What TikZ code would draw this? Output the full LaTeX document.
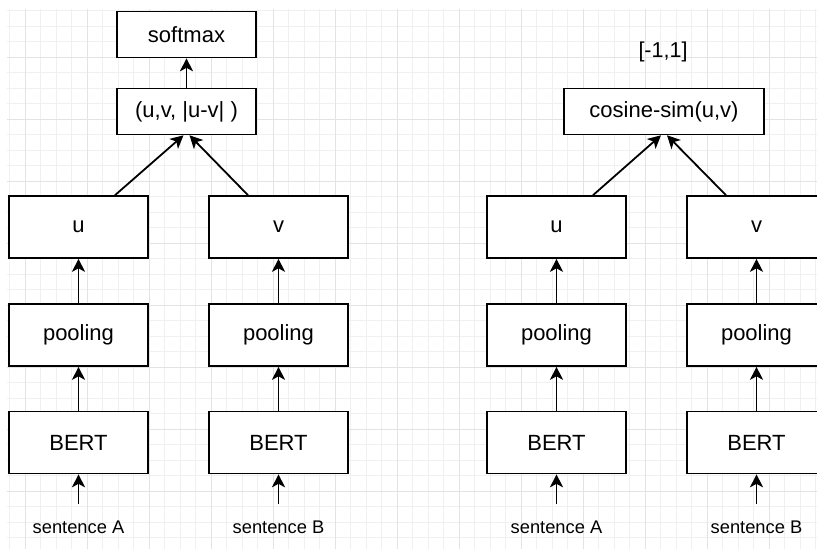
\documentclass[tikz,border=0pt]{standalone}
\usepackage{fontspec}
\setmainfont{Liberation Sans}
\usetikzlibrary{arrows.meta}
\begin{document}
\begin{tikzpicture}[x=1pt,y=-1pt,
  gridminor/.style={draw=black!6, line width=1pt},
  gridmajor/.style={draw=black!11, line width=1pt},
  block/.style={draw=black, line width=1.6pt, fill=white, minimum width=139pt,
    minimum height=62pt, inner sep=0pt, font=\fontsize{22}{24}\selectfont},
  smallblock/.style={block, minimum height=46pt},
  flow/.style={line width=1.8pt, -{Stealth[length=13pt,width=13pt,inset=3.5pt]}},
  caption/.style={font=\fontsize{18.3}{20}\selectfont, inner sep=0pt},
  label/.style={font=\fontsize{21.5}{24}\selectfont, inner sep=0pt}]

\useasboundingbox (0,0) rectangle (817,549);

% background grid
\begin{scope}
  \clip (7,9) rectangle (817,549);
  \foreach \k in {-6,...,48} {
    \draw[gridminor] ({87+15.5*\k},0) -- ({87+15.5*\k},560);
  }
  \foreach \k in {-4,...,33} {
    \draw[gridminor] (0,{57+15.5*\k}) -- (830,{57+15.5*\k});
  }
  \foreach \k in {-2,...,12} {
    \draw[gridmajor] ({87+62*\k},0) -- ({87+62*\k},560);
  }
  \foreach \k in {-1,...,8} {
    \draw[gridmajor] (0,{57+62*\k}) -- (830,{57+62*\k});
  }
\end{scope}

% classification objective
\node[smallblock] (softmax) at (186.5,34.5) {softmax};
\node[smallblock] (concat) at (186.5,111.5) {(u,v, |u-v| )};
\node[block] (ua) at (78.5,227) {u};
\node[block] (va) at (278.5,227) {v};
\node[block] (pa) at (78.5,335) {pooling};
\node[block] (pb) at (278.5,335) {pooling};
\node[block] (ba) at (78.5,442.5) {BERT};
\node[block] (bb) at (278.5,442.5) {BERT};
\node[caption] (sa) at (78.5,527) {sentence A};
\node[caption] (sb) at (278.5,527) {sentence B};
\coordinate (sa0) at (78.5,504);
\coordinate (sb0) at (278.5,504);

\draw[flow] (concat.north) -- (softmax.south);
\draw[flow] ([xshift=36.5pt]ua.north) -- ([xshift=-3pt]concat.south);
\draw[flow] ([xshift=-30.5pt]va.north) -- ([xshift=3pt]concat.south);
\draw[flow] (pa.north) -- (ua.south);
\draw[flow] (pb.north) -- (va.south);
\draw[flow] (ba.north) -- (pa.south);
\draw[flow] (bb.north) -- (pb.south);
\draw[flow] (sa0) -- (ba.south);
\draw[flow] (sb0) -- (bb.south);

% regression objective
\node[label] (range) at (663,52) {[-1,1]};
\node[smallblock, minimum width=200pt] (cos) at (664,111.5) {cosine-sim(u,v)};
\node[block] (uc) at (556.5,227) {u};
\node[block] (vc) at (756.5,227) {v};
\node[block] (pc) at (556.5,335) {pooling};
\node[block] (pd) at (756.5,335) {pooling};
\node[block] (bc) at (556.5,442.5) {BERT};
\node[block] (bd) at (756.5,442.5) {BERT};
\node[caption] (sc) at (556.5,527) {sentence A};
\node[caption] (sd) at (756.5,527) {sentence B};
\coordinate (sc0) at (556.5,504);
\coordinate (sd0) at (756.5,504);

\draw[flow] ([xshift=36.5pt]uc.north) -- ([xshift=-3pt]cos.south);
\draw[flow] ([xshift=-30.5pt]vc.north) -- ([xshift=3pt]cos.south);
\draw[flow] (pc.north) -- (uc.south);
\draw[flow] (pd.north) -- (vc.south);
\draw[flow] (bc.north) -- (pc.south);
\draw[flow] (bd.north) -- (pd.south);
\draw[flow] (sc0) -- (bc.south);
\draw[flow] (sd0) -- (bd.south);
\end{tikzpicture}
\end{document}
